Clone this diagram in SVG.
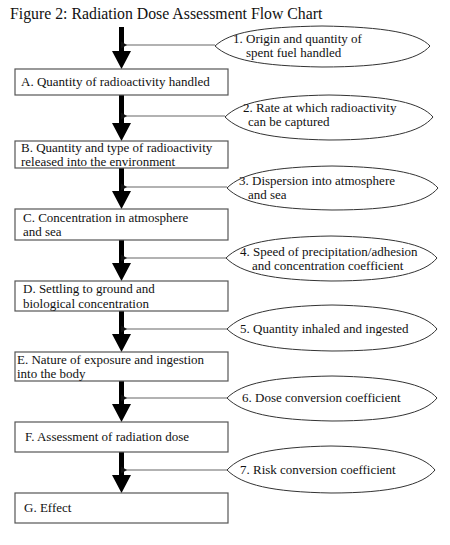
<svg xmlns="http://www.w3.org/2000/svg" width="450" height="545" viewBox="0 0 450 545">
<style>
text{font-family:"Liberation Serif","Times New Roman",serif;font-size:13px;fill:#111}
.title{font-size:15.8px}
.box{fill:#fff;stroke:#555;stroke-width:1.2}
.ell{fill:#fff;stroke:#333;stroke-width:1}
.shaft{fill:#000}
.conn{stroke:#666;stroke-width:1.2;fill:none}
</style>
<defs>
<marker id="sm" markerWidth="6" markerHeight="8" refX="1" refY="4" orient="auto" markerUnits="userSpaceOnUse">
<path d="M6,0.5 L0,4 L6,7.5 Z" fill="#111"/>
</marker>
</defs>
<rect width="450" height="545" fill="#fff"/>
<text class="title" x="10" y="19">Figure 2: Radiation Dose Assessment Flow Chart</text>

<g id="main-arrows">
<path class="shaft" d="M119,27 H124 V51 H131 L121.5,69 L112,51 H119 Z"/>
<path class="shaft" d="M119,95 H124 V123 H131 L121.5,141 L112,123 H119 Z"/>
<path class="shaft" d="M119,168 H124 V191 H131 L121.5,209 L112,191 H119 Z"/>
<path class="shaft" d="M119,240 H124 V263 H131 L121.5,281 L112,263 H119 Z"/>
<path class="shaft" d="M119,311 H124 V334 H131 L121.5,352 L112,334 H119 Z"/>
<path class="shaft" d="M119,381 H124 V404 H131 L121.5,422 L112,404 H119 Z"/>
<path class="shaft" d="M119,452 H124 V475 H131 L121.5,493 L112,475 H119 Z"/>
</g>

<g id="connectors">
<line class="conn" x1="215" y1="45" x2="126" y2="45" marker-end="url(#sm)"/>
<line class="conn" x1="225" y1="116" x2="126" y2="116" marker-end="url(#sm)"/>
<line class="conn" x1="227" y1="187" x2="126" y2="187" marker-end="url(#sm)"/>
<line class="conn" x1="226" y1="258" x2="126" y2="258" marker-end="url(#sm)"/>
<line class="conn" x1="227" y1="329" x2="126" y2="329" marker-end="url(#sm)"/>
<line class="conn" x1="227" y1="398" x2="126" y2="398" marker-end="url(#sm)"/>
<line class="conn" x1="227" y1="470" x2="126" y2="470" marker-end="url(#sm)"/>
</g>

<g id="boxA"><rect class="box" x="15" y="69" width="213" height="26"/><text x="21" y="86">A. Quantity of radioactivity handled</text></g>
<g id="boxB"><rect class="box" x="15" y="141" width="213" height="27"/><text x="21" y="151.5">B. Quantity and type of radioactivity</text><text x="21" y="166">released into the environment</text></g>
<g id="boxC"><rect class="box" x="15" y="209" width="213" height="31"/><text x="23" y="221.5">C. Concentration in atmosphere</text><text x="23" y="236">and sea</text></g>
<g id="boxD"><rect class="box" x="15" y="281" width="213" height="30"/><text x="23" y="293">D. Settling to ground and</text><text x="23" y="307.5">biological concentration</text></g>
<g id="boxE"><rect class="box" x="15" y="352" width="213" height="29"/><text x="17" y="363.5">E. Nature of exposure and ingestion</text><text x="17" y="378">into the body</text></g>
<g id="boxF"><rect class="box" x="15" y="422" width="213" height="30"/><text x="25" y="441">F. Assessment of radiation dose</text></g>
<g id="boxG"><rect class="box" x="15" y="493" width="213" height="30"/><text x="24" y="512">G. Effect</text></g>

<g id="e1"><path class="ell" d="M215,46 C230,32 260,27 322,26 C385,27 418,33 430,46 C418,60 385,67 322,67 C260,66 230,60 215,46 Z"/><text x="233" y="42.5">1. Origin and quantity of</text><text x="246" y="57">spent fuel handled</text></g>
<g id="e2"><path class="ell" d="M225,117 C240,102 270,96 329,95 C390,96 421,103 433,117 C421,132 390,140 329,140 C270,139 240,132 225,117 Z"/><text x="243" y="111.5">2. Rate at which radioactivity</text><text x="248" y="126">can be captured</text></g>
<g id="e3"><path class="ell" d="M227,188 C242,173 272,167 332,166 C393,167 426,174 438,188 C426,203 393,210 332,210 C272,209 242,203 227,188 Z"/><text x="239" y="184.5">3. Dispersion into atmosphere</text><text x="248" y="199">and sea</text></g>
<g id="e4"><path class="ell" d="M226,258 C241,243 271,237 331,236 C392,237 425,244 437,258 C425,273 392,281 331,281 C271,280 241,273 226,258 Z"/><text x="240" y="255.5">4. Speed of precipitation/adhesion</text><text x="252" y="270">and concentration coefficient</text></g>
<g id="e5"><path class="ell" d="M227,329 C242,314 272,306 332,305 C393,306 425,314 437,329 C425,344 393,351 332,351 C272,350 242,344 227,329 Z"/><text x="240" y="333">5. Quantity inhaled and ingested</text></g>
<g id="e6"><path class="ell" d="M227,398 C242,383 272,377 332,376 C393,377 425,384 437,398 C425,413 393,421 332,421 C272,420 242,413 227,398 Z"/><text x="242" y="402">6. Dose conversion coefficient</text></g>
<g id="e7"><path class="ell" d="M227,470 C242,454 272,447 331,446 C391,447 423,455 435,470 C423,485 391,493 331,493 C272,492 242,485 227,470 Z"/><text x="240" y="474">7. Risk conversion coefficient</text></g>
</svg>
